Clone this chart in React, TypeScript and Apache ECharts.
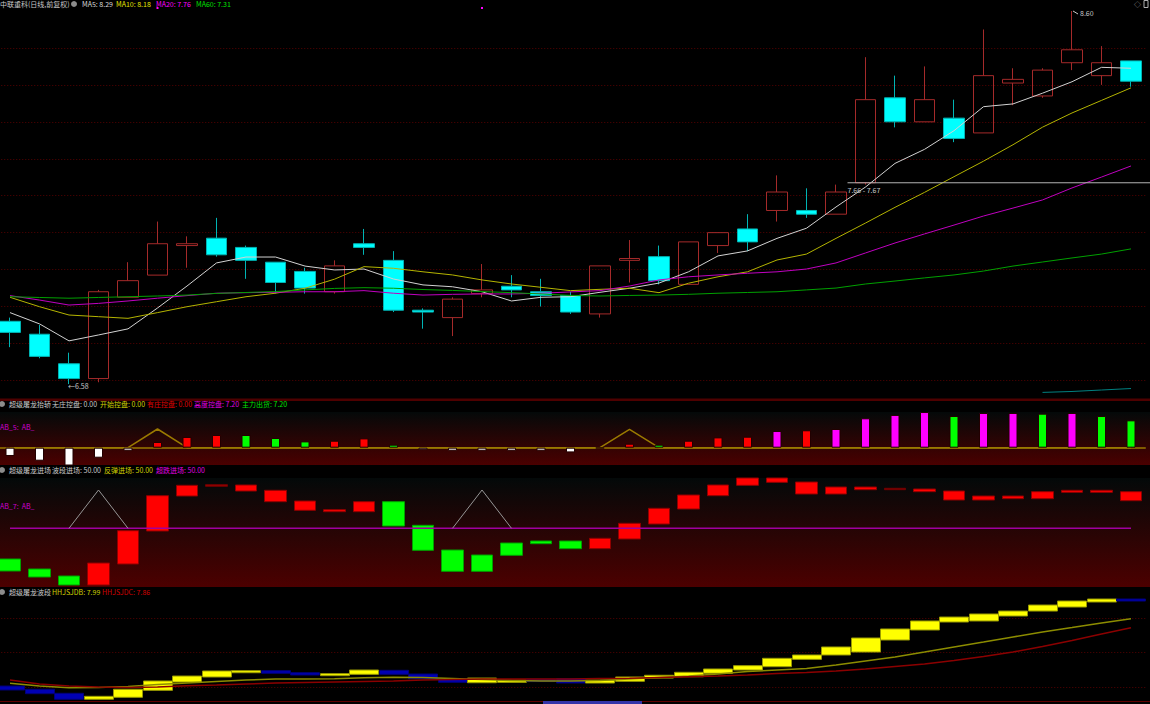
import React, { useEffect, useRef } from "react";
import * as echarts from "echarts";

// ---------- main price panel ----------
const opens = [6.92, 6.85, 6.69, 6.61, 7.05, 7.17, 7.33, 7.37, 7.32, 7.24, 7.19, 7.08, 7.34, 7.25, 6.98, 6.94, 7.07, 7.11, 7.08, 7.06, 6.96, 7.25, 7.27, 7.12, 7.33, 7.42, 7.52, 7.52, 7.50, 7.67, 8.13, 8.00, 8.02, 7.94, 8.21, 8.14, 8.32, 8.25, 8.33];
const closes = [6.86, 6.73, 6.61, 7.08, 7.14, 7.34, 7.34, 7.28, 7.25, 7.13, 7.10, 7.22, 7.32, 6.98, 6.97, 7.04, 7.09, 7.09, 7.06, 6.97, 7.22, 7.26, 7.14, 7.35, 7.40, 7.35, 7.62, 7.50, 7.62, 8.12, 8.00, 8.12, 7.91, 8.25, 8.23, 8.28, 8.39, 8.32, 8.22];
const lows = [6.78, 6.72, 6.58, 6.59, 7.05, 7.17, 7.21, 7.27, 7.15, 7.07, 7.07, 7.07, 7.28, 6.97, 6.88, 6.84, 7.05, 7.05, 7.00, 6.96, 6.94, 7.13, 7.12, 7.12, 7.29, 7.30, 7.46, 7.48, 7.50, 7.66, 7.97, 8.00, 7.89, 7.94, 8.09, 8.13, 8.28, 8.20, 8.19];
const highs = [6.94, 6.90, 6.75, 7.09, 7.24, 7.46, 7.38, 7.48, 7.33, 7.24, 7.21, 7.25, 7.42, 7.30, 6.99, 7.05, 7.23, 7.17, 7.15, 7.08, 7.22, 7.36, 7.33, 7.35, 7.40, 7.50, 7.71, 7.64, 7.66, 8.35, 8.25, 8.30, 8.12, 8.50, 8.29, 8.29, 8.60, 8.41, 8.33];
const ma5 = [6.967, 6.906, 6.814, 6.846, 6.879, 6.992, 7.111, 7.236, 7.268, 7.268, 7.219, 7.198, 7.203, 7.149, 7.117, 7.107, 7.080, 7.030, 7.050, 7.053, 7.077, 7.099, 7.127, 7.188, 7.274, 7.301, 7.369, 7.424, 7.539, 7.647, 7.775, 7.851, 7.952, 8.082, 8.097, 8.155, 8.217, 8.295, 8.290];
const ma10 = [7.050, 6.999, 6.954, 6.945, 6.936, 6.967, 6.999, 7.026, 7.053, 7.072, 7.099, 7.148, 7.216, 7.207, 7.188, 7.171, 7.144, 7.122, 7.104, 7.086, 7.093, 7.099, 7.075, 7.126, 7.161, 7.188, 7.252, 7.284, 7.369, 7.452, 7.537, 7.618, 7.703, 7.787, 7.876, 7.971, 8.048, 8.116, 8.184];
const ma20 = [7.059, 7.035, 7.008, 7.017, 7.030, 7.045, 7.059, 7.072, 7.075, 7.077, 7.080, 7.080, 7.086, 7.072, 7.062, 7.066, 7.068, 7.068, 7.072, 7.079, 7.086, 7.111, 7.144, 7.161, 7.171, 7.180, 7.188, 7.203, 7.236, 7.290, 7.344, 7.393, 7.441, 7.490, 7.533, 7.577, 7.642, 7.701, 7.761];
const ma60 = [7.053, 7.049, 7.045, 7.049, 7.053, 7.057, 7.062, 7.071, 7.076, 7.081, 7.090, 7.098, 7.102, 7.099, 7.092, 7.087, 7.081, 7.075, 7.068, 7.060, 7.057, 7.060, 7.062, 7.066, 7.072, 7.076, 7.080, 7.090, 7.100, 7.122, 7.138, 7.155, 7.171, 7.192, 7.219, 7.241, 7.263, 7.284, 7.312];
const maLong = [null, null, null, null, null, null, null, null, null, null, null, null, null, null, null, null, null, null, null, null, null, null, null, null, null, null, null, null, null, null, null, null, null, null, null, 6.535, 6.540, 6.548, 6.556];
const priceGridLevels = [6.6, 6.8, 7.0, 7.2, 7.4, 7.6, 7.8, 8.0, 8.2, 8.4];
const levelIndex = 29;

// ---------- panel 2: 超级屠龙抬轿 ----------
const ab5Values = [-2.18, -3.42, -5.2, -2.63, -0.79, 1.5, 2.82, 3.34, 3.34, 2.55, 1.66, 1.84, 2.45, 0.79, -0.53, -0.79, -0.79, -0.79, -0.79, -1.24, -0.15, 1.05, 0.79, 1.84, 2.71, 2.89, 4.39, 4.58, 4.92, 7.74, 8.61, 9.39, 8.34, 9.13, 9.13, 8.95, 9.13, 8.34, 7.20];
const ab5Types = ["w", "w", "w", "w", "w", "r", "r", "r", "g", "g", "g", "r", "r", "g", "w", "w", "w", "w", "w", "w", "w", "r", "g", "r", "r", "r", "m", "r", "m", "m", "m", "m", "g", "m", "m", "g", "m", "g", "g"];
const ab5Zig = [0, 0, 0, 0, 0, 4.92, 0, 0, 0, 0, 0, 0, 0, 0, 0, 0, 0, 0, 0, 0, 0, 4.84, 0, 0, 0, 0, 0, 0, 0, 0, 0, 0, 0, 0, 0, 0, 0, 0, 0];

// ---------- panel 3: 超级屠龙进场 ----------
const ab7Lo = [7.3, 1.3, -6.7, -6.7, 14.3, 47.3, 82.3, 92.0, 87.3, 76.6, 68.0, 66.6, 66.6, 52.3, 28.0, 7.0, 7.0, 23.0, 34.6, 29.6, 29.6, 39.3, 54.3, 69.3, 82.6, 93.0, 96.0, 84.3, 84.3, 88.6, 88.6, 86.6, 78.3, 78.3, 79.6, 79.6, 86.0, 86.0, 77.6];
const ab7Hi = [19.3, 9.3, 2.3, 15.3, 47.6, 82.6, 93.0, 93.6, 93.3, 88.0, 77.3, 68.6, 76.6, 76.6, 53.0, 28.3, 23.3, 35.3, 37.3, 37.3, 40.0, 55.0, 70.0, 83.3, 93.3, 100.3, 100.3, 96.3, 91.3, 91.3, 90.0, 89.3, 87.3, 82.3, 82.3, 86.6, 88.0, 88.0, 86.6];
const ab7Types = ["g", "g", "g", "r", "r", "r", "r", "d", "r", "r", "r", "r", "r", "g", "g", "g", "g", "g", "g", "g", "r", "r", "r", "r", "r", "r", "r", "r", "r", "r", "d", "r", "r", "r", "r", "r", "r", "r", "r"];
const ab7Base = [50, 50, 50, 50, 50, 50, 50, 50, 50, 50, 50, 50, 50, 50, 50, 50, 50, 50, 50, 50, 50, 50, 50, 50, 50, 50, 50, 50, 50, 50, 50, 50, 50, 50, 50, 50, 50, 50, 50];
const ab7Zig = [null, null, 50, 88.3, 50, null, null, null, null, null, null, null, null, null, null, 50, 88.3, 50, null, null, null, null, null, null, null, null, null, null, null, null, null, null, null, null, null, null, null, null, null];

// ---------- panel 4: 超级屠龙波段 ----------
const waveHi = [7.014, 6.967, 6.909, 6.865, 6.967, 7.087, 7.159, 7.232, 7.236, 7.236, 7.207, 7.193, 7.246, 7.242, 7.188, 7.120, 7.130, 7.101, 7.112, 7.120, 7.101, 7.145, 7.170, 7.213, 7.261, 7.309, 7.416, 7.464, 7.580, 7.710, 7.841, 7.957, 8.014, 8.058, 8.101, 8.188, 8.246, 8.275, 8.275];
const waveLo = [6.957, 6.903, 6.822, 6.822, 6.851, 6.952, 7.072, 7.145, 7.207, 7.199, 7.174, 7.164, 7.184, 7.184, 7.120, 7.068, 7.062, 7.068, 7.078, 7.058, 7.058, 7.083, 7.130, 7.149, 7.199, 7.246, 7.294, 7.401, 7.464, 7.507, 7.681, 7.826, 7.942, 7.957, 8.029, 8.101, 8.159, 8.232, 8.246];
const waveTypes = ["b", "b", "b", "y", "y", "y", "y", "y", "y", "b", "b", "y", "y", "b", "b", "b", "y", "y", "b", "b", "y", "y", "y", "y", "y", "y", "y", "y", "y", "y", "y", "y", "y", "y", "y", "y", "y", "y", "b"];
const hhjsjdb = [7.054, 7.014, 6.990, 6.993, 7.007, 7.036, 7.058, 7.080, 7.101, 7.116, 7.116, 7.120, 7.135, 7.141, 7.138, 7.123, 7.109, 7.094, 7.087, 7.087, 7.094, 7.116, 7.138, 7.159, 7.188, 7.225, 7.246, 7.268, 7.319, 7.377, 7.435, 7.507, 7.580, 7.652, 7.725, 7.797, 7.862, 7.928, 7.990];
const hhjsjdc = [7.101, 7.043, 7.014, 7.000, 6.993, 7.000, 7.019, 7.029, 7.043, 7.058, 7.065, 7.072, 7.080, 7.087, 7.101, 7.109, 7.116, 7.116, 7.116, 7.116, 7.123, 7.126, 7.138, 7.148, 7.159, 7.174, 7.196, 7.210, 7.232, 7.261, 7.297, 7.333, 7.384, 7.442, 7.507, 7.587, 7.674, 7.768, 7.859];
const waveGridLevels = [7.0, 7.5, 8.0];

const categories = closes.map((_, i) => `D${i + 1}`);

const FONT = '"Noto Sans CJK SC", "Noto Sans", sans-serif';
const FS = 7;
const GRID_L = -4.75;
const GRID_W = 1150.5;

const last = (a: number[]) => a[a.length - 1].toFixed(2);

function txt(x: number, y: number, text: string, fill: string, extra: any = {}) {
  return {
    type: "text",
    x,
    y,
    silent: true,
    z: 10,
    style: {
      text,
      fill,
      font: `${FS}px ${FONT}`,
      textVerticalAlign: "middle",
      verticalAlign: "middle",
      ...extra,
    },
  };
}
function icon(cx: number, cy: number) {
  return { type: "circle", silent: true, z: 10, shape: { cx, cy, r: 3 }, style: { fill: "#8c8c8c" } };
}

const ab5Colors: Record<string, string> = { w: "#ffffff", r: "#ff0000", g: "#00ff00", m: "#ff00ff" };
const ab7Colors: Record<string, string> = { r: "#ff0000", g: "#00ff00", d: "#a00000" };
const ab7Border: Record<string, string> = { r: "#900000", g: "#00a000", d: "#700000" };
const waveColors: Record<string, string> = { y: "#ffff00", b: "#0000b4" };
const waveBorder: Record<string, string> = { y: "#9a9a00", b: "#00007a" };

function baseGraphics(): any[] {
  const g: any[] = [];
  g.push({
    type: "rect", silent: true, z: -10,
    shape: { x: 0, y: 412, width: 1150, height: 53 },
    style: { fill: new echarts.graphic.LinearGradient(0, 0, 0, 1, [{ offset: 0, color: "#040909" }, { offset: 1, color: "#4a0000" }]) },
  });
  g.push({
    type: "rect", silent: true, z: -10,
    shape: { x: 0, y: 478, width: 1150, height: 109 },
    style: { fill: new echarts.graphic.LinearGradient(0, 0, 0, 1, [{ offset: 0, color: "#030909" }, { offset: 1, color: "#4c0000" }]) },
  });
  g.push({ type: "rect", silent: true, z: -9, shape: { x: 0, y: 398.5, width: 1150, height: 2.5 }, style: { fill: "#4e0000" } });
  g.push({ type: "line", silent: true, z: 5, shape: { x1: 0, y1: 701.5, x2: 1150, y2: 701.5 }, style: { stroke: "#600000", lineWidth: 1 } });
  g.push({ type: "rect", silent: true, z: 6, shape: { x: 543, y: 701, width: 99, height: 4 }, style: { fill: "#3434a8" } });

  g.push(txt(0, 4, "中联重科(日线,前复权)", "#c8c8c8"));
  g.push(icon(74, 4));
  g.push(txt(82, 4, `MA5: ${last(ma5)}`, "#d8d8d8"));
  g.push(txt(116, 4, `MA10: ${last(ma10)}`, "#e6e600"));
  g.push(txt(156, 4, `MA20: ${last(ma20)}`, "#ff00ff"));
  g.push(txt(196, 4, `MA60: ${last(ma60)}`, "#00e000"));
  g.push(txt(1134, 4, "◇", "#b0b0b0"));
  g.push({ type: "rect", silent: true, z: 10, shape: { x: 1144, y: 0.5, width: 4, height: 7 }, style: { fill: "none", stroke: "#b0b0b0", lineWidth: 1 } });

  g.push(icon(2, 404));
  g.push(txt(9, 404, "超级屠龙抬轿", "#c8c8c8"));
  g.push(txt(52, 404, "无庄控盘: 0.00", "#c8c8c8"));
  g.push(txt(100, 404, "开始控盘: 0.00", "#d0d000"));
  g.push(txt(147, 404, "有庄控盘: 0.00", "#e00000"));
  g.push(txt(194, 404, "高度控盘: 7.20", "#e000e0"));
  g.push(txt(242, 404, "主力出货: 7.20", "#00e000"));
  g.push(txt(0, 427, "AB_5:  AB_", "#d000d0"));

  g.push(icon(2, 470));
  g.push(txt(9, 470, "超级屠龙进场", "#c8c8c8"));
  g.push(txt(52, 470, "波段进场: 50.00", "#c8c8c8"));
  g.push(txt(104, 470, "反弹进场: 50.00", "#d0d000"));
  g.push(txt(156, 470, "超跌进场: 50.00", "#e000e0"));
  g.push(txt(0, 506, "AB_7:  AB_", "#d000d0"));

  g.push(icon(2, 592));
  g.push(txt(9, 592, "超级屠龙波段", "#c8c8c8"));
  g.push(txt(52, 592, `HHJSJDB: ${last(hhjsjdb)}`, "#d0d000"));
  g.push(txt(102, 592, `HHJSJDC: ${last(hhjsjdc)}`, "#d00000"));
  return g;
}

function lineSeries(data: any[], color: string, xi: number, width = 1, z = 4) {
  return {
    type: "line",
    xAxisIndex: xi,
    yAxisIndex: xi,
    data,
    symbol: "none",
    showSymbol: false,
    silent: true,
    connectNulls: false,
    lineStyle: { color, width },
    itemStyle: { color },
    z,
  };
}

// empty carrier series that only holds the dotted horizontal grid lines, kept behind every mark
function gridLineSeries(levels: number[], xi: number) {
  return {
    type: "line",
    xAxisIndex: xi,
    yAxisIndex: xi,
    data: [],
    silent: true,
    z: 1,
    markLine: {
      z: 1,
      silent: true,
      symbol: ["none", "none"],
      label: { show: false },
      lineStyle: { color: "#560000", type: [1, 2], width: 1 },
      data: levels.map((v) => ({ yAxis: v })),
    },
  };
}

function buildOption(): any {
  const grids = [
    { top: 0, height: 398 },
    { top: 400, height: 65 },
    { top: 466, height: 121 },
    { top: 588, height: 113.5 },
  ].map((g) => ({ left: GRID_L, width: GRID_W, ...g, show: false, containLabel: false, outerBoundsMode: "none" }));
  const yRanges = [
    [6.5047, 8.6596],
    [-4.553, 12.553],
    [-8.7, 112.3],
    [6.7899, 8.4348],
  ];
  return {
    animation: false,
    backgroundColor: "#000000",
    grid: grids,
    xAxis: grids.map((_, i) => ({ type: "category", gridIndex: i, data: categories, boundaryGap: true, show: false })),
    yAxis: yRanges.map((r, i) => ({ type: "value", gridIndex: i, min: r[0], max: r[1], show: false, splitLine: { show: false } })),
    graphic: { elements: baseGraphics() },
    series: [
      gridLineSeries(priceGridLevels, 0),
      {
        type: "candlestick",
        xAxisIndex: 0,
        yAxisIndex: 0,
        barWidth: 21,
        silent: true,
        data: opens.map((o, i) => [o, closes[i], lows[i], highs[i]]),
        itemStyle: { color: "transparent", color0: "#00ffff", borderColor: "#a52a2a", borderColor0: "#00b4b4", borderWidth: 1 },
        z: 3,
      },
      lineSeries(ma5, "#d2d2d2", 0),
      lineSeries(ma10, "#b4b400", 0),
      lineSeries(ma20, "#c000c0", 0),
      lineSeries(ma60, "#00a000", 0),
      lineSeries(maLong, "#008080", 0),
      // panel 2
      {
        ...lineSeries(ab5Zig, "#9a7a00", 1, 1.5, 2),
        markLine: {
          z: 2,
          silent: true,
          symbol: ["none", "none"],
          label: { show: false },
          lineStyle: { color: "#9a7a00", type: "solid", width: 1.5 },
          data: [{ yAxis: 0 }],
        },
      },
      {
        type: "bar",
        xAxisIndex: 1,
        yAxisIndex: 1,
        barWidth: 9,
        silent: true,
        data: ab5Values.map((v, i) => ({
          value: v,
          itemStyle: { color: ab5Colors[ab5Types[i]], borderColor: "#220000", borderWidth: 1 },
        })),
        z: 3,
      },
      // panel 3
      {
        type: "candlestick",
        xAxisIndex: 2,
        yAxisIndex: 2,
        barWidth: 22,
        silent: true,
        data: ab7Lo.map((lo, i) => {
          const t = ab7Types[i];
          return {
            value: [lo, ab7Hi[i], lo, ab7Hi[i]],
            itemStyle: { color: ab7Colors[t], color0: ab7Colors[t], borderColor: ab7Border[t], borderColor0: ab7Border[t], borderWidth: 1 },
          };
        }),
        z: 3,
      },
      lineSeries(ab7Base, "#a000a0", 2, 1.5, 4),
      lineSeries(ab7Zig, "#969696", 2, 1, 4),
      // panel 4
      gridLineSeries(waveGridLevels, 3),
      {
        type: "candlestick",
        xAxisIndex: 3,
        yAxisIndex: 3,
        barWidth: 29.5,
        silent: true,
        data: waveLo.map((lo, i) => {
          const t = waveTypes[i];
          return {
            value: [lo, waveHi[i], lo, waveHi[i]],
            itemStyle: { color: waveColors[t], color0: waveColors[t], borderColor: waveBorder[t], borderColor0: waveBorder[t], borderWidth: 1 },
          };
        }),
        z: 3,
      },
      lineSeries(hhjsjdb, "#8c8c00", 3, 1.5, 4),
      lineSeries(hhjsjdc, "#8b0000", 3, 1.5, 4),
    ],
  };
}

function annotations(chart: any): any[] {
  const out: any[] = [];
  const toPx = (i: number, v: number) => chart.convertToPixel({ xAxisIndex: 0, yAxisIndex: 0 }, [i, v]) as number[];
  const minLow = Math.min(...lows);
  const lowIdx = lows.indexOf(minLow);
  const maxHigh = Math.max(...highs);
  const highIdx = highs.indexOf(maxHigh);
  const lp = toPx(lowIdx, minLow);
  out.push(txt(lp[0] - 1, lp[1] + 2, `←${minLow.toFixed(2)}`, "#c8c8c8"));
  const hp = toPx(highIdx, maxHigh);
  out.push({ type: "line", silent: true, z: 10, shape: { x1: hp[0] + 1, y1: hp[1], x2: hp[0] + 6, y2: hp[1] + 3 }, style: { stroke: "#c8c8c8", lineWidth: 1 } });
  out.push(txt(hp[0] + 8, hp[1] + 2, maxHigh.toFixed(2), "#c8c8c8"));
  const lv = toPx(levelIndex, opens[levelIndex]);
  out.push({ type: "line", silent: true, z: 9, shape: { x1: lv[0] - 18, y1: lv[1], x2: 1150, y2: lv[1] }, style: { stroke: "#b4b4b4", lineWidth: 1 } });
  out.push(txt(lv[0] - 18, lv[1] + 7, `${lows[levelIndex].toFixed(2)} - ${opens[levelIndex].toFixed(2)}`, "#c8c8c8"));
  [5, 16].forEach((i) => {
    const p = toPx(i, 8.6);
    out.push({ type: "rect", silent: true, z: 10, shape: { x: p[0] - 1, y: 7, width: 2, height: 2 }, style: { fill: "#ff00ff" } });
  });
  return out;
}

export default function App() {
  const ref = useRef<HTMLDivElement>(null);
  useEffect(() => {
    if (!ref.current) return;
    const chart = echarts.init(ref.current, null, { renderer: "svg" });
    chart.setOption(buildOption());
    const extra = annotations(chart);
    chart.setOption({ graphic: { elements: [...baseGraphics(), ...extra] } });
    return () => chart.dispose();
  }, []);
  return (
    <div
      ref={ref}
      style={{ position: "fixed", left: 0, top: 0, width: 1150, height: 704, background: "#000" }}
    />
  );
}
